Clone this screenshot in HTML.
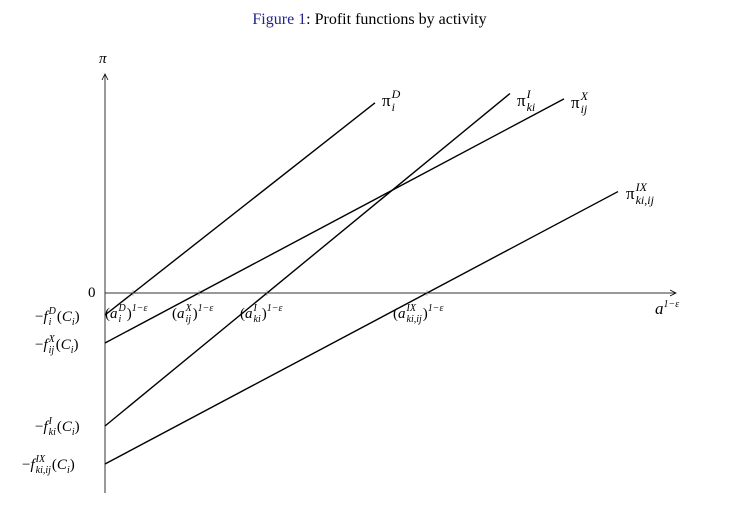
<!DOCTYPE html>
<html><head><meta charset="utf-8"><style>
body{margin:0;background:#fff;width:739px;height:517px;overflow:hidden;position:relative;font-family:"Liberation Serif",serif;}
.l{position:absolute;font-size:15px;white-space:nowrap;line-height:1;}
.l i{font-style:italic}
.l sup,.l sub{font-size:10px;font-style:italic;}
.l sup{vertical-align:7px}
.l sub{vertical-align:-4px}
.st{display:inline-block;vertical-align:-4px;font-size:10px;font-style:italic;line-height:11px;margin-left:1px;margin-right:1px}
.st span{display:block}
.big .st{font-size:12px;line-height:13px;vertical-align:-5px}
</style></head><body>
<div class="l" style="left:0;width:739px;text-align:center;top:12px;font-size:16px;"><span style="color:#22228a">Figure 1</span>: Profit functions by activity</div>
<svg id="c" width="739" height="517" style="position:absolute;left:0;top:0">
<defs><marker id="ar" markerWidth="8" markerHeight="8" refX="6" refY="4" orient="auto"><path d="M0,1 L6,4 L0,7" fill="none" stroke="#000" stroke-width="0.8"/></marker></defs>
<line x1="105" y1="293" x2="676" y2="293" stroke="#333" stroke-width="1" marker-end="url(#ar)"/>
<line x1="105" y1="493" x2="105" y2="74" stroke="#333" stroke-width="1" marker-end="url(#ar)"/>
</svg>
<div class="l" style="left:99px;top:52px;font-style:italic">π</div>
<div class="l" style="left:655px;top:300px;font-size:17px"><i>a</i><sup>1−ε</sup></div>
<div class="l" style="left:88px;top:286px;">0</div>
<div class="l" style="left:35px;top:306px;">−<i>f</i><span class="st"><span>D</span><span>i</span></span>(<i>C<sub>i</sub></i>)</div>
<div class="l" style="left:35px;top:334px;">−<i>f</i><span class="st"><span>X</span><span>ij</span></span>(<i>C<sub>i</sub></i>)</div>
<div class="l" style="left:35px;top:416px;">−<i>f</i><span class="st"><span>I</span><span>ki</span></span>(<i>C<sub>i</sub></i>)</div>
<div class="l" style="left:22px;top:454px;">−<i>f</i><span class="st"><span>IX</span><span>ki,ij</span></span>(<i>C<sub>i</sub></i>)</div>
<div class="l" style="left:105px;top:303px;">(<i>a</i><span class="st"><span>D</span><span>i</span></span>)<sup>1−ε</sup></div>
<div class="l" style="left:172px;top:303px;">(<i>a</i><span class="st"><span>X</span><span>ij</span></span>)<sup>1−ε</sup></div>
<div class="l" style="left:240px;top:303px;">(<i>a</i><span class="st"><span>I</span><span>ki</span></span>)<sup>1−ε</sup></div>
<div class="l" style="left:393px;top:303px;">(<i>a</i><span class="st"><span>IX</span><span>ki,ij</span></span>)<sup>1−ε</sup></div>
<div class="l big" style="left:382px;top:88px;font-size:17px;">π<span class="st"><span>D</span><span>i</span></span></div>
<div class="l big" style="left:517px;top:88px;font-size:17px;">π<span class="st"><span>I</span><span>ki</span></span></div>
<div class="l big" style="left:571px;top:90px;font-size:17px;">π<span class="st"><span>X</span><span>ij</span></span></div>
<div class="l big" style="left:626px;top:181px;font-size:17px;">π<span class="st"><span>IX</span><span>ki,ij</span></span></div>
<script>
const series = ["D","X","I","IX"];
const intercepts = [-2.2, -5.0, -13.3, -17.1];
const roots = [2.8, 9.4, 16.2, 32.2];
const endX = [27.0, 45.9, 40.5, 51.3];
const xs = v => 105 + 10*v;
const ys = v => 293 - 10*v;
const svg = document.getElementById('c');
const NS = "http://www.w3.org/2000/svg";
series.forEach((s,i)=>{
  const slope = -intercepts[i]/roots[i];
  const ln = document.createElementNS(NS,'line');
  
  
  ln.setAttribute('x1', xs(0)); ln.setAttribute('y1', ys(intercepts[i]));
  ln.setAttribute('x2', xs(endX[i])); ln.setAttribute('y2', ys(intercepts[i]+slope*endX[i]));
  ln.setAttribute('stroke','#000'); ln.setAttribute('stroke-width','1.4');
  svg.appendChild(ln);
  const tk = document.createElementNS(NS,'line');
  
  
  tk.setAttribute('x1', xs(roots[i])); tk.setAttribute('x2', xs(roots[i]));
  tk.setAttribute('y1', 290); tk.setAttribute('y2', 296);
  tk.setAttribute('stroke','#888'); tk.setAttribute('stroke-width','0.6');
  svg.appendChild(tk);
});
</script>
</body></html>
